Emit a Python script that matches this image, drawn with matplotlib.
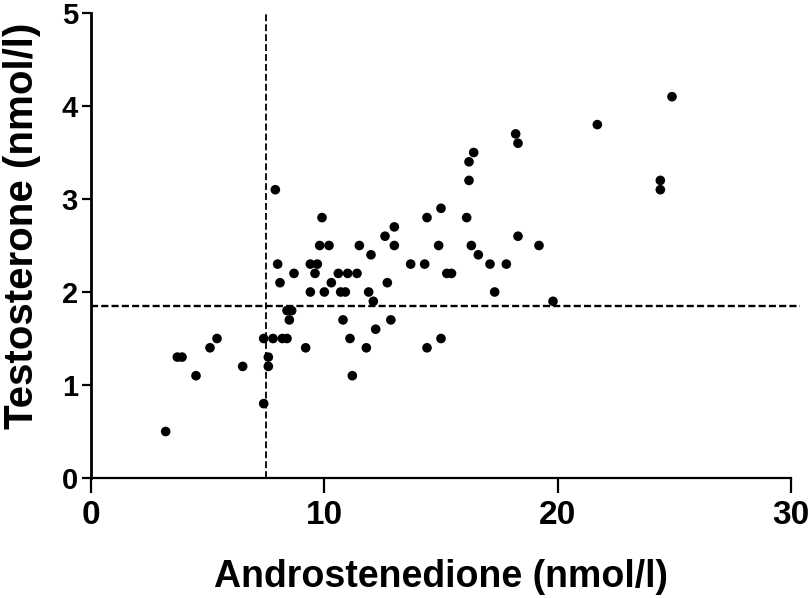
import matplotlib
matplotlib.use("Agg")
import matplotlib.pyplot as plt

androstenedione = [3.2, 3.7, 3.9, 4.5, 5.1, 5.4, 6.5, 7.4, 7.4, 7.6, 7.6, 7.8, 8.2, 8.4,
                   8.4, 8.6, 8.5, 9.2, 7.9, 9.9, 9.8, 10.2, 11.5, 12.6, 13.0, 13.0, 14.4,
                   12.0, 8.0, 9.4, 9.7, 9.6, 8.7, 8.1, 10.6, 11.0, 11.4, 10.3, 9.4, 10.0,
                   10.7, 10.9, 11.9, 12.1, 12.7, 13.7, 14.3, 10.8, 12.85, 12.2, 11.1, 11.8,
                   14.4, 11.2, 15.0, 18.2, 18.3, 16.4, 16.2, 16.2, 15.0, 16.1, 18.3, 14.9,
                   16.3, 19.2, 16.6, 17.1, 17.8, 15.25, 15.45, 17.3, 19.8, 21.7, 24.9,
                   24.4, 24.4]
testosterone = [0.5, 1.3, 1.3, 1.1, 1.4, 1.5, 1.2, 0.8, 1.5, 1.3, 1.2, 1.5, 1.5, 1.5,
                1.8, 1.8, 1.7, 1.4, 3.1, 2.8, 2.5, 2.5, 2.5, 2.6, 2.7, 2.5, 2.8,
                2.4, 2.3, 2.3, 2.3, 2.2, 2.2, 2.1, 2.2, 2.2, 2.2, 2.1, 2.0, 2.0,
                2.0, 2.0, 2.0, 1.9, 2.1, 2.3, 2.3, 1.7, 1.7, 1.6, 1.5, 1.4,
                1.4, 1.1, 1.5, 3.7, 3.6, 3.5, 3.4, 3.2, 2.9, 2.8, 2.6, 2.5,
                2.5, 2.5, 2.4, 2.3, 2.3, 2.2, 2.2, 2.0, 1.9, 3.8, 4.1,
                3.2, 3.1]
cutoff_x = 7.5
cutoff_y = 1.85
x_ticks = [0, 10, 20, 30]
y_ticks = [0, 1, 2, 3, 4, 5]

fig = plt.figure(figsize=(8.1, 5.98), dpi=100)
ax = fig.add_axes([91/810, 1-478/598, 700/810, 465/598])

ax.scatter(androstenedione, testosterone, s=48, color="black", edgecolors="none", zorder=3, clip_on=False)
ax.plot([cutoff_x, cutoff_x], [0, 5], color="black", lw=1.3, dashes=(3.8, 1.7), clip_on=False)
ax.plot([0, 30.4], [cutoff_y, cutoff_y], color="black", lw=1.7, dashes=(3.0, 1.35), clip_on=False)

ax.set_xlim(0, 30)
ax.set_ylim(0, 5)
ax.set_xticks(x_ticks)
ax.set_yticks(y_ticks)
for s in ["top", "right"]:
    ax.spines[s].set_visible(False)
ax.spines["left"].set_linewidth(2.0)
ax.spines["bottom"].set_linewidth(1.6)
ax.tick_params(axis="x", length=11, width=1.6, pad=5)
ax.tick_params(axis="y", length=6.5, width=1.6, pad=3)
for lab in ax.get_xticklabels():
    lab.set_fontfamily("Liberation Sans")
    lab.set_fontweight("bold")
    lab.set_fontsize(24)
for lab in ax.get_yticklabels():
    lab.set_fontfamily("Liberation Sans")
    lab.set_fontweight("bold")
    lab.set_fontsize(21)

ax.set_xlabel("Androstenedione (nmol/l)", fontfamily="Liberation Sans", fontweight="bold", fontsize=27, labelpad=20)
ax.set_ylabel("Testosterone (nmol/l)", fontfamily="Liberation Sans", fontweight="bold", fontsize=29)
ax.yaxis.set_label_coords(-0.072, 0.542)

fig.savefig("out.png", dpi=100)
